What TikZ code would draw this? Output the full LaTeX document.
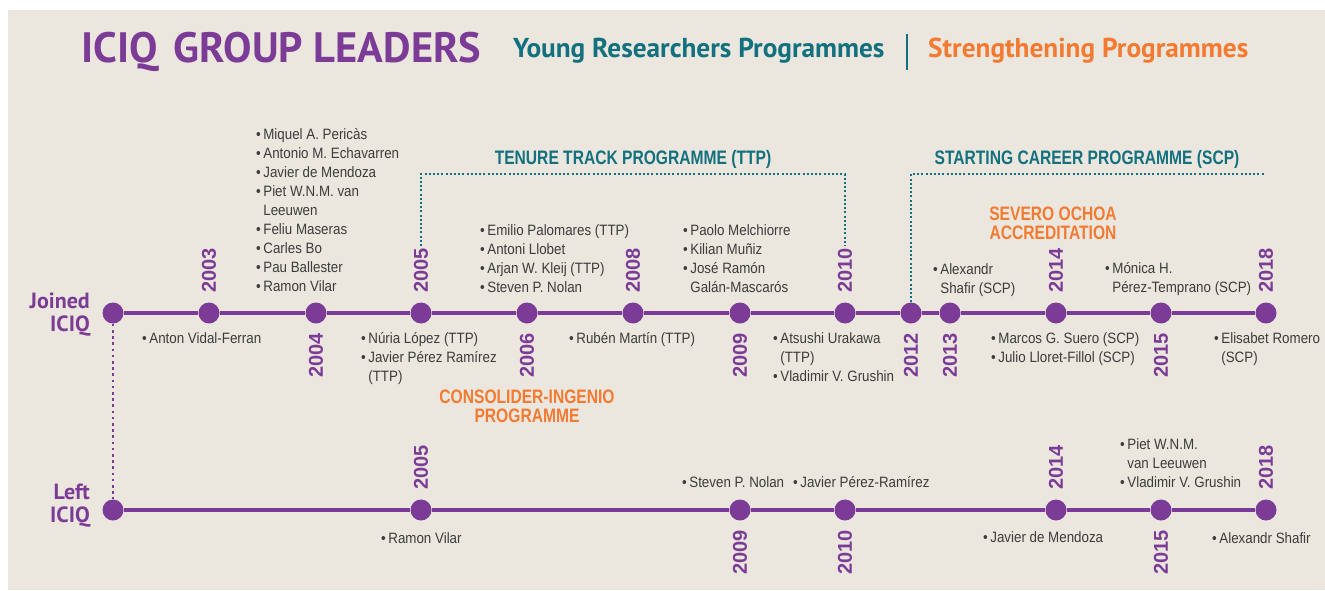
\documentclass[tikz,border=0pt]{standalone}
\usepackage{fontspec}
\setmainfont{Liberation Sans}
\newfontfamily\namefont[FakeStretch=0.89]{Liberation Sans}
\newfontfamily\progfont[FakeStretch=0.8]{Liberation Sans}
\newfontfamily\headfont{PT Sans}
\usetikzlibrary{positioning}

\definecolor{iciqpurple}{HTML}{7B3B96}
\definecolor{iciqteal}{HTML}{12707F}
\definecolor{iciqorange}{HTML}{F37A31}
\definecolor{panelbg}{HTML}{EBE7DE}
\definecolor{nametext}{HTML}{3C3C3C}

\newcommand{\bul}{•\,}

\tikzset{
	dot/.style={shape=circle, fill=iciqpurple, minimum size=21pt, inner sep=0pt},
	tl/.style={draw=iciqpurple, line width=4pt},
	yearup/.style={rotate=90, anchor=west, inner sep=0pt, text=iciqpurple, font=\bfseries\fontsize{20}{20}\selectfont},
	yeardown/.style={yearup, anchor=east},
	names/.style={anchor=base west, align=left, inner sep=0pt, text=nametext, font=\namefont\fontsize{15}{19}\selectfont},
	prog/.style={inner sep=0pt, align=center, font=\progfont\bfseries\fontsize{19.5}{19}\selectfont},
	head/.style={anchor=base west, inner sep=0pt, font=\headfont\bfseries\fontsize{27.3}{27}\selectfont},
	side/.style={anchor=east, align=right, inner sep=0pt, text=iciqpurple, font=\headfont\bfseries\fontsize{22}{23}\selectfont},
	tealdots/.style={draw=iciqteal, line width=2pt, dash pattern=on 2pt off 2.2pt},
	purpledots/.style={draw=iciqpurple, line width=2.6pt, dash pattern=on 2.6pt off 3.6pt},
}

\begin{document}
\begin{tikzpicture}[x=1pt, y=-1pt]
	\useasboundingbox (0,0) rectangle (1325,590);
	\fill[panelbg] (8,10) rectangle (1325,590);

	% header
	\node[head, text=iciqpurple, font=\headfont\bfseries\fontsize{42.5}{42}\selectfont] (title) at (81,62) {ICIQ\hspace{16pt}GROUP LEADERS};
	\node[head, text=iciqteal] (young) at (513,57) {Young Researchers Programmes};
	\node[head, text=iciqorange] (strength) at (928,57) {Strengthening Programmes};
	\coordinate (bartop) at (907,34);
	\coordinate (barbot) at (907,70);
	\draw[iciqteal, line width=2pt] (bartop) -- (barbot);

	% joined line
	\node[side] (joined) at (90,315) {Joined\\ICIQ};
	\node[dot] (j0) at (113,313) {};
	\node[dot] (j03) at (209,313) {};
	\node[dot] (j04) at (316,313) {};
	\node[dot] (j05) at (421,313) {};
	\node[dot] (j06) at (527,313) {};
	\node[dot] (j08) at (633,313) {};
	\node[dot] (j09) at (740,313) {};
	\node[dot] (j10) at (845,313) {};
	\node[dot] (j12) at (911,313) {};
	\node[dot] (j13) at (950,313) {};
	\node[dot] (j14) at (1056,313) {};
	\node[dot] (j15) at (1161,313) {};
	\node[dot] (j18) at (1266,313) {};

	\path [tl] (j0) edge (j03) (j03) edge (j04) (j04) edge (j05) (j05) edge (j06);
	\path [tl] (j06) edge (j08) (j08) edge (j09) (j09) edge (j10) (j10) edge (j12);
	\path [tl] (j12) edge (j13) (j13) edge (j14) (j14) edge (j15) (j15) edge (j18);

	\node[yearup] (t03) at (209,293) {2003};
	\node[yeardown] (t04) at (316,333) {2004};
	\node[yearup] (t05) at (421,293) {2005};
	\node[yeardown] (t06) at (527,333) {2006};
	\node[yearup] (t08) at (633,293) {2008};
	\node[yeardown] (t09) at (740,333) {2009};
	\node[yearup] (t10) at (845,293) {2010};
	\node[yeardown] (t12) at (911,333) {2012};
	\node[yeardown] (t13) at (950,333) {2013};
	\node[yearup] (t14) at (1056,293) {2014};
	\node[yeardown] (t15) at (1161,333) {2015};
	\node[yearup] (t18) at (1266,293) {2018};

	% lists sit on the baseline of their last line
	\node[names] (n03) at (142,343) {\bul Anton Vidal-Ferran};
	\node[names] (n04) at (256,291) {\bul Miquel A. Pericàs\\ \bul Antonio M. Echavarren\\ \bul Javier de Mendoza\\ \bul Piet W.N.M. van\\ \phantom{\bul}Leeuwen\\ \bul Feliu Maseras\\ \bul Carles Bo\\ \bul Pau Ballester\\ \bul Ramon Vilar};
	\node[names] (n05) at (361,381) {\bul Núria López (TTP)\\ \bul Javier Pérez Ramírez\\ \phantom{\bul}(TTP)};
	\node[names] (n06) at (480,292) {\bul Emilio Palomares (TTP)\\ \bul Antoni Llobet\\ \bul Arjan W. Kleij (TTP)\\ \bul Steven P. Nolan};
	\node[names] (n08) at (569,343) {\bul Rubén Martín (TTP)};
	\node[names] (n09) at (683,292) {\bul Paolo Melchiorre\\ \bul Kilian Muñiz\\ \bul José Ramón\\ \phantom{\bul}Galán-Mascarós};
	\node[names] (n10) at (773,381) {\bul Atsushi Urakawa\\ \phantom{\bul}(TTP)\\ \bul Vladimir V. Grushin};
	\node[names] (n13) at (933,293) {\bul Alexandr\\ \phantom{\bul}Shafir (SCP)};
	\node[names] (n14) at (991,362) {\bul Marcos G. Suero (SCP)\\ \bul Julio Lloret-Fillol (SCP)};
	\node[names] (n15) at (1105,292) {\bul Mónica H.\\ \phantom{\bul}Pérez-Temprano (SCP)};
	\node[names] (n18) at (1214,362) {\bul Elisabet Romero\\ \phantom{\bul}(SCP)};

	% programmes
	\node[prog, text=iciqteal] (ttp) at (633,159) {TENURE TRACK PROGRAMME (TTP)};
	\node[prog, text=iciqteal] (scp) at (1087,159) {STARTING CAREER PROGRAMME (SCP)};
	\node[prog, text=iciqorange] (severo) at (1053,223) {SEVERO OCHOA\\ACCREDITATION};
	\node[prog, text=iciqorange] (consolider) at (527,406) {CONSOLIDER-INGENIO\\PROGRAMME};

	\coordinate (ttpl) at (421,246);
	\coordinate (ttptop) at (633,174);
	\coordinate (ttpr) at (845,246);
	\coordinate (scpend) at (1264,174);
	\draw[tealdots] (ttpl) |- (ttptop) -| (ttpr);
	\draw[tealdots] (j12) |- (scpend);

	% left line
	\node[side] (left) at (90,506) {Left\\ICIQ};
	\node[dot] (l0) at (113,510) {};
	\node[dot] (l05) at (421,510) {};
	\node[dot] (l09) at (740,510) {};
	\node[dot] (l10) at (845,510) {};
	\node[dot] (l14) at (1056,510) {};
	\node[dot] (l15) at (1161,510) {};
	\node[dot] (l18) at (1266,510) {};

	\path [tl] (l0) edge (l05) (l05) edge (l09) (l09) edge (l10);
	\path [tl] (l10) edge (l14) (l14) edge (l15) (l15) edge (l18);
	\draw[purpledots] (j0) -- (l0);

	\node[yearup] (b05) at (421,490) {2005};
	\node[yeardown] (b09) at (740,530) {2009};
	\node[yeardown] (b10) at (845,530) {2010};
	\node[yearup] (b14) at (1056,490) {2014};
	\node[yeardown] (b15) at (1161,530) {2015};
	\node[yearup] (b18) at (1266,490) {2018};

	\node[names] (m05) at (381,543) {\bul Ramon Vilar};
	\node[names] (m09) at (682,487) {\bul Steven P. Nolan};
	\node[names] (m10) at (793,487) {\bul Javier Pérez-Ramírez};
	\node[names] (m14) at (983,542) {\bul Javier de Mendoza};
	\node[names] (m15) at (1120,487) {\bul Piet W.N.M.\\ \phantom{\bul}van Leeuwen\\ \bul Vladimir V. Grushin};
	\node[names] (m18) at (1212,543) {\bul Alexandr Shafir};
\end{tikzpicture}
\end{document}
